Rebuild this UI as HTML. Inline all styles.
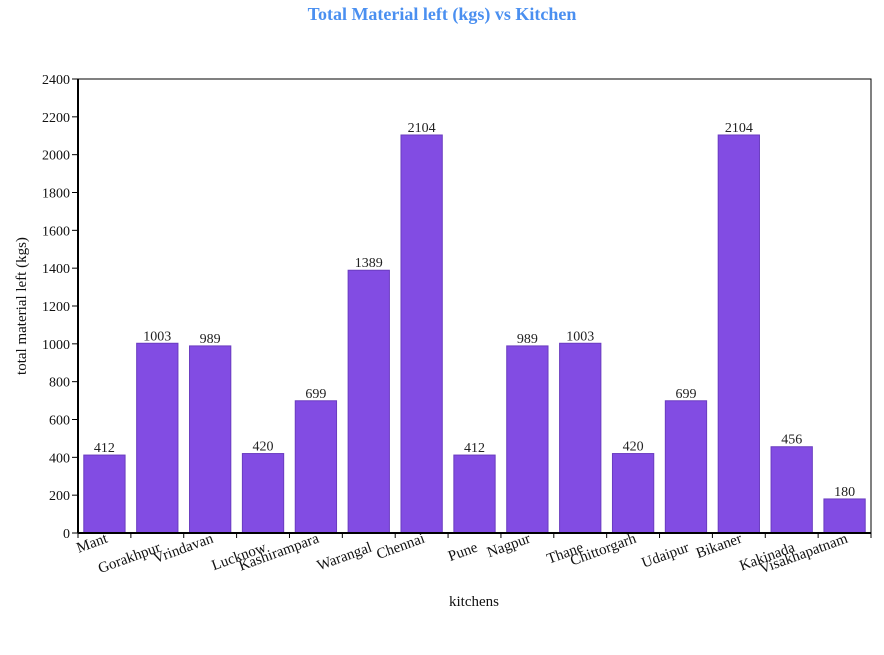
<!DOCTYPE html>
<html><head><meta charset="utf-8"><style>
body{margin:0;background:#fff;width:884px;height:650px;overflow:hidden}
text{font-family:"Liberation Serif",serif}
</style></head><body>
<svg id="c" width="884" height="650">
<text x="442" y="20" text-anchor="middle" fill="#4a8ff0" font-size="18" font-weight="bold">Total Material left (kgs)  vs Kitchen</text>
<text x="474" y="606" text-anchor="middle" font-size="15" fill="#111">kitchens</text>
<text transform="translate(26,306) rotate(-90)" text-anchor="middle" font-size="15" fill="#111">total material left (kgs)</text>
</svg>
<script>
const categories=["Mant","Gorakhpur","Vrindavan","Lucknow","Kashirampara","Warangal","Chennai","Pune","Nagpur","Thane","Chittorgarh","Udaipur","Bikaner","Kakinada","Visakhapatnam"];
const values=[412,1003,989,420,699,1389,2104,412,989,1003,420,699,2104,456,180];
const yTicks=[0,200,400,600,800,1000,1200,1400,1600,1800,2000,2200,2400];
const svg=document.getElementById('c');const NS='http://www.w3.org/2000/svg';
const L=78,R=871,T=79,B=533,yMax=2400;
const bw=(R-L)/categories.length;
const y=v=>B-(v/yMax)*(B-T);
const x=i=>L+i*bw;
function mk(t,a,p){const e=document.createElementNS(NS,t);for(const k in a)e.setAttribute(k,a[k]);(p||svg).appendChild(e);return e;}
yTicks.forEach(v=>{
 const l=mk('line',{x1:L-6,x2:L,y1:y(v),y2:y(v),stroke:'#000','stroke-width':1});
 
 
 const t=mk('text',{x:L-8,y:y(v)+5,'text-anchor':'end','font-size':14,fill:'#111'});t.textContent=v;
 
 
});
categories.forEach((c,i)=>{
 const pad=bw*0.1;
 const r=mk('rect',{x:x(i)+pad+0.5,y:y(values[i]),width:bw-2*pad-1,height:B-y(values[i]),fill:'#824ce3',stroke:'#6a3cc0','stroke-width':1});
 
 
 const vt=mk('text',{x:x(i)+bw/2,y:y(values[i])-3,'text-anchor':'middle','font-size':14,fill:'#222'});vt.textContent=values[i];
 
 
 const tk=mk('line',{x1:x(i),x2:x(i),y1:B,y2:B+5,stroke:'#000'});
 
 
 const cx=x(i)+bw/2+4, cy=B+(i%2?18:9);
 const t=mk('text',{x:cx,y:cy,'text-anchor':'end','font-size':15,fill:'#111',transform:`rotate(-20 ${cx} ${cy})`});t.textContent=c;
 
 
});
const lt=mk('line',{x1:R,x2:R,y1:B,y2:B+5,stroke:'#000'});


const frame=mk('rect',{x:L,y:T,width:R-L,height:B-T,fill:'none',stroke:'#000','stroke-width':1});


const ax=mk('line',{x1:L,x2:R,y1:B,y2:B,stroke:'#000','stroke-width':2});


const ay=mk('line',{x1:L,x2:L,y1:T,y2:B,stroke:'#000','stroke-width':2});


</script>
</body></html>
